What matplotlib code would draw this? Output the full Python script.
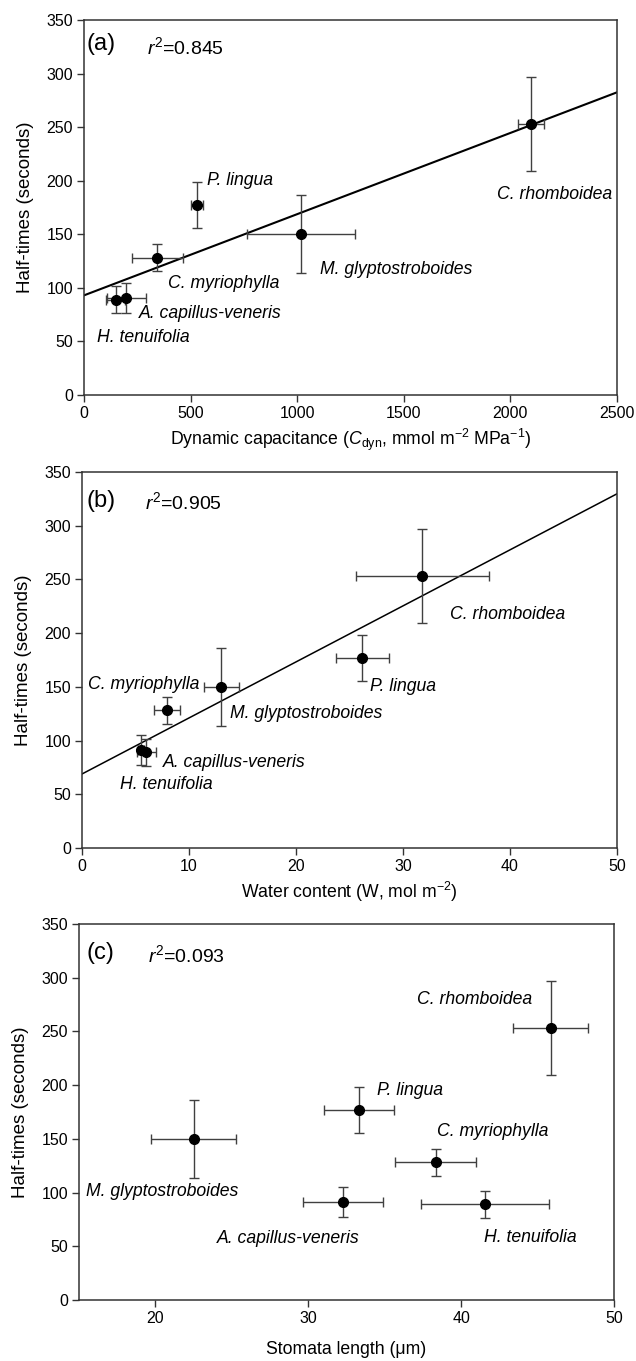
import numpy as np
import matplotlib.pyplot as plt

plt.rcParams['font.family'] = ['Liberation Sans', 'DejaVu Sans']
plt.rcParams['mathtext.fontset'] = 'custom'
plt.rcParams['mathtext.rm'] = 'Liberation Sans'
plt.rcParams['mathtext.it'] = 'Liberation Sans:italic'

species = ["H. tenuifolia", "A. capillus-veneris", "C. myriophylla",
           "P. lingua", "M. glyptostroboides", "C. rhomboidea"]

# half-times (s), same in all panels
half_time = [89, 91, 128, 177, 150, 253]
half_err = [12.5, 14, 12.5, 21.5, 36.5, 44]

# panel a: dynamic capacitance
cdyn = [148, 199, 344, 530, 1018, 2096]
cdyn_err = [45, 91, 120, 27, 255, 60]

# panel b: water content
water = [6.0, 5.5, 7.94, 26.2, 13.03, 31.8]
water_err = [0.9, 0.3, 1.2, 2.5, 1.65, 6.2]

# panel c: stomata length
stomata = [41.57, 32.26, 38.35, 33.3, 22.5, 45.85]
stomata_err = [4.2, 2.6, 2.65, 2.3, 2.78, 2.45]

# regression lines (intercept, slope)
fit_a = (93.0, 0.0758)
fit_b = (68.9, 5.216)

r2_text = ["0.845", "0.905", "0.093"]

# label anchor positions (data coords)
lab_a = [(63, 54), (258, 76), (395, 104), (579, 200), (1107, 117), (1939, 187)]
lab_b = [(3.57, 59), (7.52, 80), (0.6, 152), (26.9, 150.5), (13.83, 125), (34.35, 217)]
lab_c = [(41.5, 58.5), (24.0, 57.6), (38.43, 157.3), (34.52, 194.6), (15.45, 100.6), (37.1, 279.7)]

fig = plt.figure(figsize=(6.36, 13.61), dpi=100)
W, H = 636, 1361
boxes = [(84, 20, 617, 395), (82, 472, 617, 848), (79, 924, 614, 1300)]

spine_col = '#333333'
err_col = '#404040'


def make_ax(box):
    l, t, r, b = box
    ax = fig.add_axes([l / W, 1 - b / H, (r - l) / W, (b - t) / H])
    for s in ax.spines.values():
        s.set_color(spine_col)
        s.set_linewidth(1.1)
    ax.tick_params(direction='out', length=5, width=1, color=spine_col,
                   labelsize=11.5, pad=3, top=False, right=False)
    ax.set_ylim(0, 350)
    ax.set_yticks(range(0, 351, 50))
    ax.set_ylabel("Half-times (seconds)", fontsize=13.5, labelpad=9)
    return ax


def draw_points(ax, xs, xe, labs):
    ax.errorbar(xs, half_time, xerr=xe, yerr=half_err, fmt='o', color='black',
                ecolor=err_col, elinewidth=1.0, capsize=3.5, capthick=1.0,
                markersize=7, zorder=3)
    for name, (lx, ly) in zip(species, labs):
        ax.text(lx, ly, name, style='italic', fontsize=12.7, ha='left', va='center')


# (a)
ax = make_ax(boxes[0])
ax.set_xlim(0, 2500)
ax.set_xticks(range(0, 2501, 500))
xx = np.array([0, 2500])
ax.plot(xx, fit_a[0] + fit_a[1] * xx, color='black', lw=1.5, zorder=2)
draw_points(ax, cdyn, cdyn_err, lab_a)
ax.set_xlabel(r"Dynamic capacitance ($C_{\rm dyn}$, mmol m$^{-2}$ MPa$^{-1}$)",
              fontsize=12.7, labelpad=4)
ax.text(11, 328, "(a)", fontsize=17, ha='left', va='center')
ax.text(294, 325, r"$r^2$=" + r2_text[0], fontsize=14, ha='left', va='center')

# (b)
ax = make_ax(boxes[1])
ax.set_xlim(0, 50)
ax.set_xticks(range(0, 51, 10))
xx = np.array([0, 50])
ax.plot(xx, fit_b[0] + fit_b[1] * xx, color='black', lw=1.1, zorder=2)
draw_points(ax, water, water_err, lab_b)
ax.set_xlabel(r"Water content (W, mol m$^{-2}$)", fontsize=12.7, labelpad=4)
ax.text(0.45, 323, "(b)", fontsize=17, ha='left', va='center')
ax.text(5.9, 322, r"$r^2$=" + r2_text[1], fontsize=14, ha='left', va='center')

# (c)
ax = make_ax(boxes[2])
ax.set_xlim(15, 50)
ax.set_xticks(range(20, 51, 10))
draw_points(ax, stomata, stomata_err, lab_c)
ax.set_xlabel("Stomata length (\u03bcm)", fontsize=12.7, labelpad=11)
ax.text(15.5, 323, "(c)", fontsize=17, ha='left', va='center')
ax.text(19.5, 321, r"$r^2$=" + r2_text[2], fontsize=14, ha='left', va='center')

fig.savefig("out.png", dpi=100, facecolor='white')
